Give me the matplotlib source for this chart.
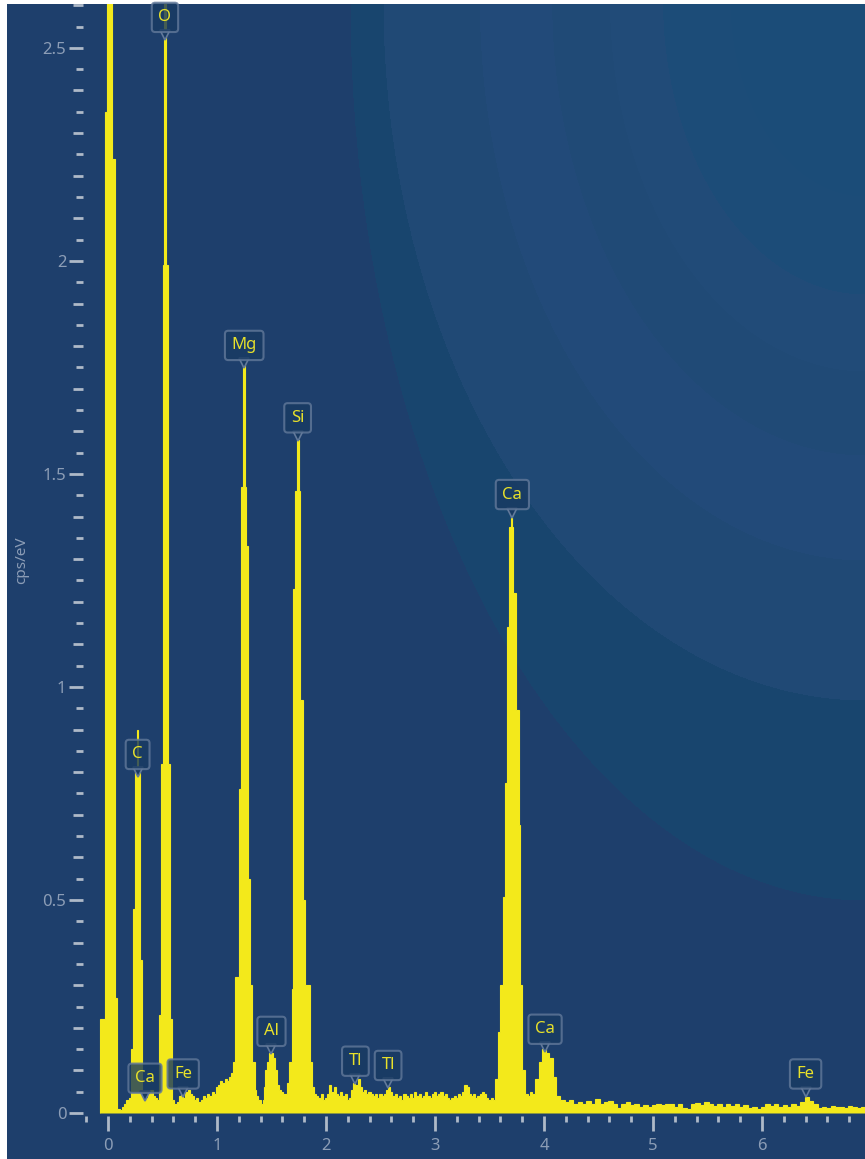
import numpy as np
import matplotlib
matplotlib.use("Agg")
import matplotlib.pyplot as plt
from matplotlib.colors import ListedColormap
from matplotlib import transforms

plt.rcParams['font.family'] = ['Noto Sans', 'DejaVu Sans']

# spectrum, split by region: left edge of each step (keV) and its height (cps/eV)
e_low = [-0.07, -0.025, -0.007, 0.037, 0.061, 0.085, 0.11, 0.13, 0.15, 0.17,
         0.19, 0.21, 0.23, 0.248, 0.262, 0.277, 0.294, 0.31, 0.33, 0.35,
         0.37, 0.39, 0.41, 0.43, 0.45, 0.47, 0.49, 0.507, 0.517, 0.533,
         0.553, 0.57, 0.59, 0.61, 0.63, 0.65, 0.67, 0.69, 0.71, 0.73,
         0.75, 0.77, 0.79, 0.81, 0.83, 0.85, 0.87, 0.89, 0.91, 0.93,
         0.95, 0.97, 0.99, 1.01, 1.03, 1.05, 1.07, 1.09, 1.11, 1.13]
c_low = [0.22, 2.35, 2.75, 2.24, 0.27, 0.01, 0.008, 0.015, 0.02, 0.03,
         0.035, 0.15, 0.48, 0.80, 0.90, 0.80, 0.36, 0.04, 0.05, 0.035,
         0.045, 0.055, 0.04, 0.035, 0.03, 0.23, 0.82, 1.99, 2.75, 1.99,
         0.82, 0.22, 0.03, 0.02, 0.025, 0.04, 0.045, 0.035, 0.05, 0.055,
         0.045, 0.04, 0.03, 0.035, 0.025, 0.03, 0.04, 0.035, 0.045, 0.04,
         0.05, 0.045, 0.06, 0.065, 0.075, 0.07, 0.08, 0.075, 0.085, 0.095]

e_mid = [1.15, 1.165, 1.20, 1.225, 1.243, 1.257, 1.265, 1.285, 1.305, 1.32,
         1.345, 1.36, 1.38, 1.40, 1.42, 1.43, 1.445, 1.46, 1.48, 1.51,
         1.53, 1.55, 1.57, 1.59, 1.61, 1.64, 1.66, 1.685, 1.70, 1.715,
         1.732, 1.748, 1.765, 1.785, 1.81, 1.85, 1.87]
c_mid = [0.12, 0.32, 0.76, 1.47, 1.76, 1.47, 1.33, 0.55, 0.30, 0.12,
         0.055, 0.04, 0.03, 0.02, 0.03, 0.06, 0.10, 0.12, 0.14, 0.13,
         0.10, 0.065, 0.055, 0.05, 0.045, 0.07, 0.12, 0.29, 1.23, 1.46,
         1.58, 1.46, 0.97, 0.50, 0.30, 0.12, 0.06]

e_bg = np.linspace(1.89, 3.53, 83)  # 20 eV steps
c_bg = [0.045, 0.04, 0.035, 0.045, 0.03, 0.035, 0.045, 0.065, 0.05, 0.06,
        0.045, 0.04, 0.05, 0.04, 0.045, 0.03, 0.035, 0.055, 0.07, 0.065,
        0.08, 0.06, 0.05, 0.055, 0.045, 0.05, 0.045, 0.04, 0.045, 0.035,
        0.045, 0.04, 0.045, 0.055, 0.06, 0.05, 0.04, 0.045, 0.035, 0.04,
        0.03, 0.045, 0.04, 0.035, 0.045, 0.035, 0.05, 0.04, 0.045, 0.035,
        0.04, 0.05, 0.04, 0.035, 0.045, 0.05, 0.04, 0.045, 0.05, 0.04,
        0.045, 0.035, 0.03, 0.035, 0.04, 0.035, 0.045, 0.04, 0.05, 0.065,
        0.06, 0.045, 0.04, 0.045, 0.035, 0.04, 0.045, 0.05, 0.045, 0.035,
        0.03, 0.035, 0.03]

e_ca = [3.555, 3.575, 3.60, 3.627, 3.639, 3.663, 3.681, 3.697, 3.711, 3.716,
        3.743, 3.767, 3.78, 3.80, 3.83, 3.85, 3.87, 3.89, 3.92, 3.95,
        3.98, 4.02, 4.05, 4.08, 4.11]
c_ca = [0.08, 0.19, 0.30, 0.507, 0.775, 1.14, 1.375, 1.40, 1.375, 1.22,
        0.946, 0.676, 0.30, 0.10, 0.045, 0.04, 0.05, 0.045, 0.08, 0.12,
        0.15, 0.14, 0.13, 0.085, 0.04]

e_tail = np.linspace(4.15, 6.91, 70)  # 40 eV steps
c_tail = [0.03, 0.025, 0.03, 0.02, 0.025, 0.02, 0.028, 0.022, 0.033, 0.022,
          0.025, 0.028, 0.02, 0.012, 0.02, 0.025, 0.018, 0.022, 0.015, 0.018,
          0.013, 0.018, 0.022, 0.018, 0.022, 0.02, 0.015, 0.02, 0.012, 0.01,
          0.02, 0.024, 0.018, 0.027, 0.02, 0.016, 0.02, 0.015, 0.02, 0.017,
          0.022, 0.015, 0.018, 0.012, 0.015, 0.01, 0.014, 0.02, 0.016, 0.022,
          0.015, 0.018, 0.013, 0.02, 0.016, 0.025, 0.037, 0.028, 0.02, 0.012,
          0.015, 0.012, 0.016, 0.013, 0.015, 0.011, 0.016, 0.014, 0.012, 0.015]
e_end = 6.95

# element markers
el_names = ['O', 'C', 'Ca', 'Fe', 'Mg', 'Al', 'Si', 'Tl', 'Tl', 'Ca', 'Ca', 'Fe', 'Fe']
el_energy = [0.523, 0.272, 0.34, 0.69, 1.25, 1.50, 1.74, 2.27, 2.57, 3.71, 4.01, 6.40, 7.06]
el_height = [2.52, 0.79, 0.03, 0.04, 1.75, 0.14, 1.58, 0.07, 0.06, 1.40, 0.145, 0.04, 0.04]

energy = list(e_low) + list(e_mid) + list(e_bg) + list(e_ca) + list(e_tail)
cps = c_low + c_mid + c_bg + c_ca + c_tail

W, H = 865, 1159
fig = plt.figure(figsize=(W / 100, H / 100), dpi=100, facecolor='white')

# background: faint elliptical bands around the top-right corner
bg = fig.add_axes([7 / W, 0, 1 - 7 / W, 1 - 4 / H])
xx, yy = np.meshgrid(np.arange(7, W), np.arange(4, H))
d1 = np.sqrt(((xx - 865) / 482.0) ** 2 + (yy / 700.0) ** 2)
d2 = np.sqrt(((xx - 865) / 515.0) ** 2 + (yy / 900.0) ** 2)
idx = np.digitize(d1, [0.28, 0.42, 0.53, 0.65, 0.8, 1.0]).astype(float)
idx[d2 > 1] = 7
band_cols = ['#1b4c78', '#1c4c78', '#214b78', '#204a76', '#224a79', '#204975', '#18456e', '#1e3f6c']
bg.imshow(idx, cmap=ListedColormap(band_cols), vmin=-0.5, vmax=7.5,
          aspect='auto', interpolation='nearest')
bg.axis('off')

ax = fig.add_axes([83 / W, (H - 1116) / H, (W - 83) / W, (1116 - 4) / H])
ax.patch.set_alpha(0)
ax.set_xlim(-0.229, 6.945)
ax.set_ylim(-0.007, 2.603)

yellow = '#f3e91b'
ax.stairs(cps, energy + [e_end], fill=True, facecolor=yellow, edgecolor=yellow,
          linewidth=0.8, zorder=2)

for s in ax.spines.values():
    s.set_visible(False)

tick_col = '#aeb9c8'
lab_col = '#8c9db6'
ax.set_xticks(np.arange(0, 7, 1))
ax.set_xticks(np.arange(-0.2, 6.95, 0.2), minor=True)
ax.set_yticks([0, 0.5, 1, 1.5, 2, 2.5])
ax.set_yticklabels(['0', '0.5', '1', '1.5', '2', '2.5'])
ax.set_yticks(np.arange(0.05, 2.61, 0.1), minor=True)
ax.tick_params(axis='both', which='major', colors=tick_col, labelcolor=lab_col,
               labelsize=12, width=2)
ax.tick_params(axis='x', which='major', length=11, pad=5)
ax.tick_params(axis='y', which='major', length=10, pad=2)
ax.tick_params(axis='x', which='minor', length=4.5, width=2, colors=tick_col)
ax.tick_params(axis='y', which='minor', length=5, width=2, colors=tick_col)

sec = ax.secondary_yaxis('left')
sec.set_yticks([v for v in np.arange(0.1, 2.61, 0.1) if abs(v * 2 - round(v * 2)) > 0.01])
sec.tick_params(length=7.2, width=2, colors=tick_col, labelleft=False)
for s in sec.spines.values():
    s.set_visible(False)

fig.text(22 / W, 1 - 560 / H, 'cps/eV', rotation=90, ha='center', va='center',
         color=lab_col, fontsize=11)

box_face = '#183a62'
box_edge = '#62799a'
for name, e, h in zip(el_names, el_energy, el_height):
    tri = transforms.offset_copy(ax.transData, fig=fig, x=0, y=4, units='dots')
    ax.plot(e, h, marker='v', markersize=7, color=box_face, markeredgecolor=box_edge,
            markeredgewidth=1.2, transform=tri, zorder=4, clip_on=False)
    ax.annotate(name, xy=(e, h), xytext=(0, 14), textcoords='offset pixels',
                ha='center', va='bottom', fontsize=12, color='#e8e12a', zorder=5,
                bbox=dict(boxstyle='round,pad=0.4,rounding_size=0.2', fc=box_face,
                          ec=box_edge, lw=1.5, alpha=0.8))

fig.savefig('out.png', dpi=100, facecolor='white')
